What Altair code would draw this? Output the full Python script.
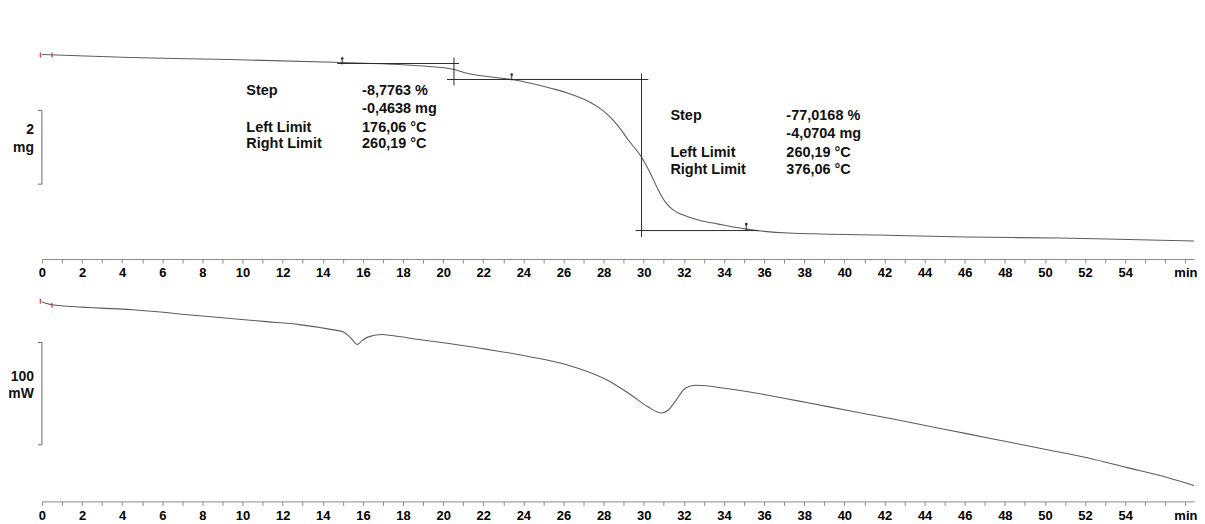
import altair as alt
import pandas as pd

# ---------------- data ----------------
# TGA curve (top panel): time [min], mass [mg]
tg_time = [0, 4.38, 9.35, 14.97, 17.80, 19.29, 20.54, 21.03, 21.78, 22.63,
           23.42, 24.42, 25.41, 26.40, 27.25, 27.75, 28.24, 28.74, 29.24, 29.89,
           30.38, 30.73, 31.08, 31.48, 31.98, 32.72, 33.72, 35.11, 37.20, 41.67,
           46.15, 50.62, 53.11, 57.43]
tg_mass = [5.285, 5.204, 5.150, 5.069, 5.015, 4.961, 4.880, 4.799, 4.717, 4.663,
           4.609, 4.501, 4.366, 4.204, 4.015, 3.853, 3.636, 3.339, 2.961, 2.501,
           2.015, 1.609, 1.285, 1.069, 0.934, 0.799, 0.690, 0.555, 0.447, 0.393,
           0.339, 0.312, 0.285, 0.231]

# DSC curve (bottom panel): time [min], heat flow [mW] (relative)
dsc_time = [0, 0.50, 4.53, 7.86, 11.19, 12.83, 14.47, 14.97, 15.22, 15.47,
            15.71, 15.96, 16.31, 16.96, 17.45, 18.80, 20.29, 21.63, 24.27, 26.11,
            28.10, 29.39, 30.23, 30.88, 31.23, 31.58, 32.07, 32.57, 33.32, 34.21,
            35.21, 36.05, 37.10, 38.19, 40.18, 42.17, 44.16, 46.15, 48.13, 50.12,
            52.11, 54.10, 56.09, 57.43]
dsc_power = [0, -2.9, -7.8, -13.6, -19.4, -22.3, -27.2, -29.1, -32.0, -36.9,
             -41.7, -37.9, -34.0, -32.0, -33.0, -36.9, -40.8, -44.7, -53.4, -61.2,
             -75.7, -91.3, -102.9, -108.7, -105.8, -97.1, -84.5, -81.6, -82.5, -85.0,
             -88.0, -90.8, -94.7, -98.7, -106.3, -113.6, -121.4, -129.1, -136.9, -144.7,
             -152.4, -162.1, -171.8, -179.6]

x_ticks = list(range(0, 58))
x_domain = [0, 57.43]
tg_domain = [-0.256, 6.528]
dsc_domain = [-195.15, 15.53]

# step evaluation construction lines
step_h_t1 = [14.72, 20.19, 29.59]
step_h_t2 = [20.79, 30.23, 35.70]
step_h_m = [5.042, 4.609, 0.515]
step_v_t = [20.54, 29.89]
step_v_m1 = [5.204, 4.771]
step_v_m2 = [4.447, 0.339]
limit_t = [14.97, 23.42, 35.11]
limit_m1 = [5.015, 4.582, 0.501]
limit_m2 = [5.177, 4.744, 0.690]

# step result texts
step_labels = ["Step", "Left Limit", "Right Limit", "Step", "Left Limit", "Right Limit"]
step_label_t = [10.19, 10.19, 10.19, 31.33, 31.33, 31.33]
step_label_m = [4.285, 3.299, 2.853, 3.609, 2.609, 2.150]
step_values = ["-8,7763 %", "-0,4638 mg", "176,06 °C", "260,19 °C",
               "-77,0168 %", "-4,0704 mg", "260,19 °C", "376,06 °C"]
step_value_t = [15.96, 15.96, 15.96, 15.96, 37.11, 37.11, 37.11, 37.11]
step_value_m = [4.285, 3.812, 3.299, 2.853, 3.609, 3.136, 2.609, 2.150]

# scale bars
tg_bar = [3.772, 1.772]
tg_bar_text = ["2", "mg"]
tg_bar_text_m = [3.231, 2.744]
dsc_bar = [-39.8, -139.8]
dsc_bar_text = ["100", "mW"]
dsc_bar_text_p = [-73.8, -90.3]

# red start markers
tg_start_t = [-0.08, 0.50]
tg_start_m1 = [5.339, 5.339]
tg_start_m2 = [5.204, 5.204]
dsc_start_t = [-0.08, 0.50]
dsc_start_p1 = [2.9, -1.0]
dsc_start_p2 = [-1.9, -5.8]

# ---------------- styling ----------------
FONT = "Liberation Sans"
LINE = "#5c5c5c"
INK = "#2a2a2a"
AXIS_GRAY = "#8a8a8a"
W = 1155


def make_x_axis(label_pad):
    return alt.Axis(
        values=x_ticks, format="d",
        labelExpr="datum.value == 57 ? 'min' : ((datum.value % 2 == 0 && datum.value <= 54) ? datum.label : '')",
        tickSize=4, tickColor=AXIS_GRAY, domainColor=AXIS_GRAY, tickWidth=1, domainWidth=1,
        labelPadding=label_pad, labelFont=FONT, labelFontWeight="bold", labelFontSize=13,
        labelColor="#000000", labelFlush=False, labelOverlap=False, grid=False)


y_axis = alt.Axis(domain=False, ticks=False, labels=False, grid=False,
                  minExtent=34, maxExtent=34)


def panel(ct, cv, dom, height, label_pad, bar, bar_text, bar_text_v, st_t, st_1, st_2, extra_fn):
    xa = make_x_axis(label_pad)

    def X(field):
        return alt.X(f"{field}:Q", scale=alt.Scale(domain=x_domain, nice=False, zero=False),
                     axis=xa, title=None)

    def Y(field):
        return alt.Y(f"{field}:Q", scale=alt.Scale(domain=dom, nice=False, zero=False),
                     axis=y_axis, title=None)

    curve = alt.Chart(pd.DataFrame({"t": ct, "v": cv})).mark_line(
        color=LINE, strokeWidth=1.1, interpolate="monotone").encode(x=X("t"), y=Y("v"))
    start = alt.Chart(pd.DataFrame({"t": st_t, "a": st_1, "b": st_2})).mark_rule(
        color="#e03030", strokeWidth=1.2).encode(x=X("t"), y=Y("a"), y2="b:Q")
    bar_line = alt.Chart(pd.DataFrame({"a": [bar[0]], "b": [bar[1]]})).mark_rule(
        color="#666666", strokeWidth=1).encode(x=alt.value(0), y=Y("a"), y2="b:Q")
    bar_ticks = alt.Chart(pd.DataFrame({"v": bar})).mark_rule(
        color="#666666", strokeWidth=1).encode(x=alt.value(-4), x2=alt.value(0), y=Y("v"))
    bar_lab = alt.Chart(pd.DataFrame({"v": bar_text_v, "s": bar_text})).mark_text(
        align="right", baseline="middle", font=FONT, fontWeight="bold", fontSize=14,
        color="#111111").encode(x=alt.value(-8), y=Y("v"), text="s:N")
    layers = [curve, start, bar_line, bar_ticks, bar_lab] + extra_fn(X, Y)
    return alt.layer(*layers).properties(width=W, height=height)


def step_layers(X, Y):
    hlines = alt.Chart(pd.DataFrame({"t1": step_h_t1, "t2": step_h_t2, "m": step_h_m})).mark_rule(
        color=INK, strokeWidth=1).encode(x=X("t1"), x2="t2:Q", y=Y("m"))
    vlines = alt.Chart(pd.DataFrame({"t": step_v_t, "a": step_v_m1, "b": step_v_m2})).mark_rule(
        color=INK, strokeWidth=1).encode(x=X("t"), y=Y("a"), y2="b:Q")
    lim_df = pd.DataFrame({"t": limit_t, "a": limit_m1, "b": limit_m2})
    lim_rules = alt.Chart(lim_df).mark_rule(color=INK, strokeWidth=1).encode(
        x=X("t"), y=Y("a"), y2="b:Q")
    lim_dots = alt.Chart(lim_df).mark_point(filled=True, size=7, color=INK, opacity=1).encode(
        x=X("t"), y=Y("b"))
    lab_txt = alt.Chart(pd.DataFrame({"t": step_label_t, "m": step_label_m, "s": step_labels})).mark_text(
        align="left", baseline="middle", font=FONT, fontWeight="bold", fontSize=14.5, color="#111111"
    ).encode(x=X("t"), y=Y("m"), text="s:N")
    val_txt = alt.Chart(pd.DataFrame({"t": step_value_t, "m": step_value_m, "s": step_values})).mark_text(
        align="left", baseline="middle", font=FONT, fontWeight="bold", fontSize=14.5, color="#111111"
    ).encode(x=X("t"), y=Y("m"), text="s:N")
    return [hlines, vlines, lim_rules, lim_dots, lab_txt, val_txt]


top = panel(tg_time, tg_mass, tg_domain, 251, 4, tg_bar, tg_bar_text, tg_bar_text_m,
            tg_start_t, tg_start_m1, tg_start_m2, step_layers)
bottom = panel(dsc_time, dsc_power, dsc_domain, 216, 4, dsc_bar, dsc_bar_text, dsc_bar_text_p,
               dsc_start_t, dsc_start_p1, dsc_start_p2, lambda X, Y: [])

chart = alt.vconcat(top, bottom, spacing=6).resolve_scale(x="independent", y="independent").properties(
    padding={"left": 0, "top": 0, "right": 0, "bottom": 0}
).configure(font=FONT).configure_view(stroke=None)

chart.save("out.html", embed_options={"renderer": "svg", "actions": False})
